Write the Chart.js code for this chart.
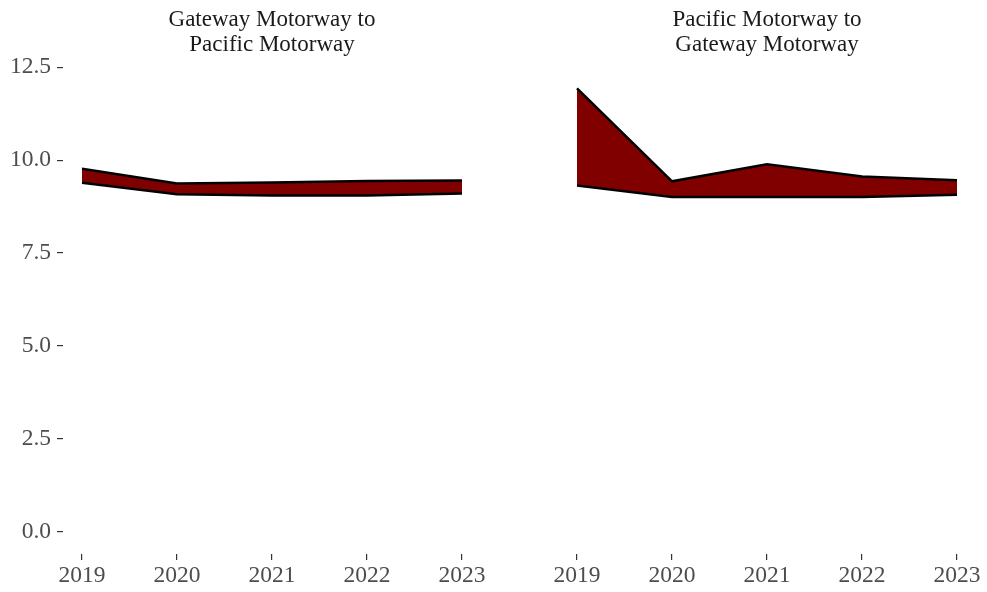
<!DOCTYPE html>
<html><head><meta charset="utf-8">
<script src="https://cdn.jsdelivr.net/npm/chart.js@4.4.1/dist/chart.umd.min.js"></script>
<style>
html,body{margin:0;padding:0;background:#fff;}
#wrap{position:relative;width:987px;height:592px;background:#fff;}
#c1{position:absolute;left:0;top:0;}
#c2{position:absolute;left:490px;top:0;}
</style></head><body>
<div id="wrap"><canvas id="c1" width="490" height="592"></canvas><canvas id="c2" width="497" height="592"></canvas></div>
<script>
const years = [2019, 2020, 2021, 2022, 2023];
const yTicks = [0, 2.5, 5, 7.5, 10, 12.5];
const titleGP = ['Gateway Motorway to', 'Pacific Motorway'];
const titlePG = ['Pacific Motorway to', 'Gateway Motorway'];
const gpLower = [9.39, 9.08, 9.05, 9.05, 9.10];
const gpUpper = [9.77, 9.37, 9.40, 9.44, 9.45];
const pgLower = [9.32, 9.01, 9.01, 9.01, 9.07];
const pgUpper = [11.93, 9.43, 9.89, 9.56, 9.46];

const FONT = 'Liberation Serif';
Chart.defaults.font.family = FONT;

function pts(arr){ return years.map((y,i)=>({x:y, y:arr[i]})); }

function makeChart(id, title, lower, upper, showY, pad){
  return new Chart(document.getElementById(id), {
    type: 'line',
    data: {
      datasets: [
        {data: pts(lower), borderColor:'#000', borderWidth:2.5, fill:false, pointRadius:0, tension:0},
        {data: pts(upper), borderColor:'#000', borderWidth:2.5, fill:'-1', backgroundColor:'#800000', pointRadius:0, tension:0}
      ]
    },
    options: {
      responsive:false, animation:false, devicePixelRatio:1,
      layout:{padding:pad},
      plugins:{
        legend:{display:false}, tooltip:{enabled:false},
        title:{display:true, fullSize:false, text:title, color:'#1a1a1a',
          font:{family:FONT, size:23, weight:'normal', lineHeight:1.09},
          padding:{top:7, bottom:9}}
      },
      scales:{
        x:{type:'linear', min:2018.8, max:2023.2,
          afterBuildTicks:(s)=>{ s.ticks = years.map(v=>({value:v})); },
          afterFit:(s)=>{ s.height = 38; s.paddingLeft = 0; s.paddingRight = 0; },
          ticks:{autoSkip:false, maxRotation:0, color:'#4d4d4d', padding:2,
            font:{family:FONT, size:23.5}, callback:(v)=>String(v)},
          grid:{drawOnChartArea:false, drawTicks:true, tickLength:6, color:'#333333', lineWidth:1.2},
          border:{display:false}
        },
        y:{type:'linear', min:-0.6, max:12.53, display:showY,
          afterBuildTicks:(s)=>{ s.ticks = yTicks.map(v=>({value:v})); },
          afterFit:(s)=>{ s.width = showY ? 63 : 0; s.paddingTop = 0; s.paddingBottom = 0; },
          ticks:{autoSkip:false, color:'#4d4d4d', padding:6,
            font:{family:FONT, size:23.5}, callback:(v)=>Number(v).toFixed(1)},
          grid:{drawOnChartArea:false, drawTicks:true, tickLength:6, color:'#333333', lineWidth:1.2},
          border:{display:false}
        }
      }
    }
  });
}
makeChart('c1', titleGP, gpLower, gpUpper, true, {top:0, left:0, right:9, bottom:0});
makeChart('c2', titlePG, pgLower, pgUpper, false, {top:0, left:68, right:11, bottom:0});
</script>
</body></html>
